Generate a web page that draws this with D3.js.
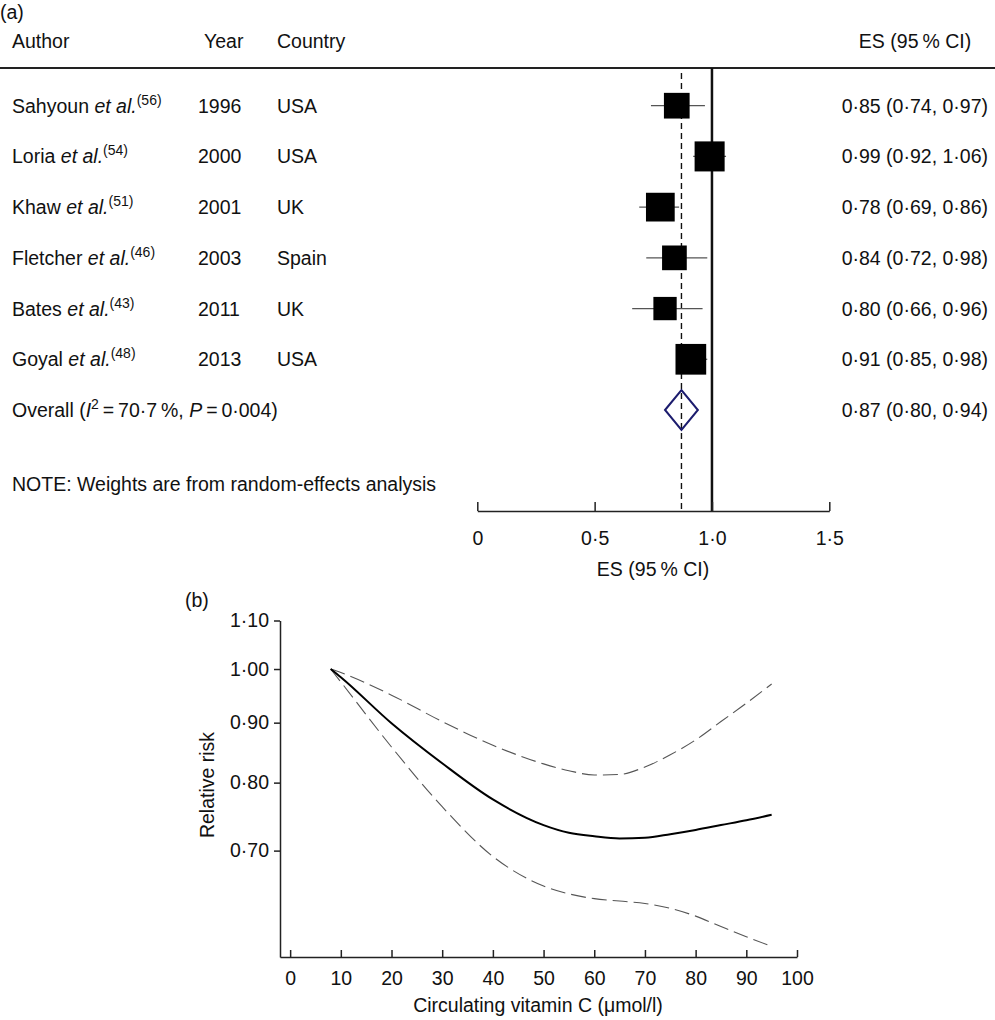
<!DOCTYPE html>
<html>
<head>
<meta charset="utf-8">
<script src="https://cdn.jsdelivr.net/npm/d3@7"></script>
<style>
  body { margin: 0; background: #fff; }
  svg text { font-family: "Liberation Sans", Arial, sans-serif; fill: #111; }
</style>
</head>
<body>
<div id="chart"></div>
<script>
// panel (a) data
const authors = ["Sahyoun", "Loria", "Khaw", "Fletcher", "Bates", "Goyal"];
const refs = ["56", "54", "51", "46", "43", "48"];
const years = ["1996", "2000", "2001", "2003", "2011", "2013"];
const countries = ["USA", "USA", "UK", "Spain", "UK", "USA"];
const es = [0.85, 0.99, 0.78, 0.84, 0.80, 0.91];
const lo = [0.74, 0.92, 0.69, 0.72, 0.66, 0.85];
const hi = [0.97, 1.06, 0.86, 0.98, 0.96, 0.98];
const weights = [14.7, 20.1, 18.4, 13.6, 12.1, 21.0];
const overall = [0.87, 0.80, 0.94];   // es, lo, hi
const overallI2 = "70·7";
const overallP = "0·004";
const esTicks = [0, 0.5, 1.0, 1.5];

// panel (b) data
const vitC = [8, 10, 20, 30, 40, 50, 55, 60, 65, 70, 75, 80, 85, 90, 95];
const rrMid = [1.00, 0.984, 0.899, 0.831, 0.774, 0.736, 0.725, 0.720, 0.717, 0.718, 0.723, 0.729, 0.736, 0.743, 0.751];
const rrUpper = [1.00, 0.993, 0.950, 0.902, 0.861, 0.830, 0.819, 0.812, 0.813, 0.825, 0.845, 0.870, 0.902, 0.935, 0.971];
const rrLower = [1.00, 0.975, 0.858, 0.763, 0.692, 0.653, 0.643, 0.637, 0.634, 0.631, 0.625, 0.6155, 0.603, 0.591, 0.580];
const vitTicks = [0, 10, 20, 30, 40, 50, 60, 70, 80, 90, 100];
const rrTicks = [0.70, 0.80, 0.90, 1.00, 1.10];

const width = 995, height = 1020;
const fs = 19.5;

const svg = d3.select("#chart").append("svg")
    .attr("width", width)
    .attr("height", height);

const dot = s => s.replace(".", "·");
const f2 = v => dot(d3.format(".2f")(v));

// ---------- panel (a): forest plot ----------
const x = d3.scaleLinear().domain([0, 1.5]).range([477.3, 829.3]);
const row = d3.scaleLinear().domain([0, 6]).range([105.7, 410]);
const size = d3.scaleSqrt().domain([0, 21]).range([0, 30.7]);
const axisY = 511;

svg.append("text").attr("x", 0).attr("y", 19).style("font-size", fs + "px").text("(a)");

const headY = 47.7;
svg.append("text").attr("x", 12).attr("y", headY).style("font-size", fs + "px").text("Author");
svg.append("text").attr("x", 204).attr("y", headY).style("font-size", fs + "px").text("Year");
svg.append("text").attr("x", 277).attr("y", headY).style("font-size", fs + "px").text("Country");
svg.append("text").attr("x", 915).attr("y", headY).style("font-size", fs + "px")
    .style("text-anchor", "middle").text("ES (95\u2009% CI)");

svg.append("line")
    .attr("x1", 0).attr("x2", width)
    .attr("y1", 68).attr("y2", 68)
    .attr("stroke", "#222").attr("stroke-width", 2);

// reference lines
svg.append("line")
    .attr("x1", x(1)).attr("x2", x(1))
    .attr("y1", 68).attr("y2", axisY)
    .attr("stroke", "#111").attr("stroke-width", 2.5);

svg.append("line")
    .attr("x1", x(overall[0])).attr("x2", x(overall[0]))
    .attr("y1", 73).attr("y2", axisY)
    .attr("stroke", "#111").attr("stroke-width", 1.4)
    .attr("stroke-dasharray", "6,4");

// study rows
authors.forEach((a, i) => {
    const y = row(i);
    const t = svg.append("text").attr("x", 12).attr("y", y + 7).style("font-size", fs + "px");
    t.append("tspan").text(a + " ");
    t.append("tspan").style("font-style", "italic").text("et al.");
    t.append("tspan").attr("dy", -8).style("font-size", "14px").text("(" + refs[i] + ")");

    svg.append("text").attr("x", 198).attr("y", y + 7).style("font-size", fs + "px").text(years[i]);
    svg.append("text").attr("x", 277).attr("y", y + 7).style("font-size", fs + "px").text(countries[i]);
    svg.append("text").attr("x", 988).attr("y", y + 7).style("font-size", fs + "px")
        .style("text-anchor", "end")
        .text(`${f2(es[i])} (${f2(lo[i])}, ${f2(hi[i])})`);

    svg.append("line")
        .attr("x1", x(lo[i])).attr("x2", x(hi[i]))
        .attr("y1", y).attr("y2", y)
        .attr("stroke", "#555").attr("stroke-width", 1.2);

    const s = size(weights[i]);
    svg.append("rect")
        .attr("x", x(es[i]) - s / 2).attr("y", y - s / 2)
        .attr("width", s).attr("height", s)
        .attr("fill", "#000");
});

// overall row
const oy = row(6);
const ot = svg.append("text").attr("x", 12).attr("y", oy + 7).style("font-size", fs + "px");
ot.append("tspan").text("Overall (");
ot.append("tspan").style("font-style", "italic").text("I");
ot.append("tspan").attr("dy", -8).style("font-size", "14px").text("2");
ot.append("tspan").attr("dy", 8).text("\u2009=\u2009" + overallI2 + "\u2009%, ");
ot.append("tspan").style("font-style", "italic").text("P");
ot.append("tspan").text("\u2009=\u2009" + overallP + ")");

svg.append("text").attr("x", 988).attr("y", oy + 7).style("font-size", fs + "px")
    .style("text-anchor", "end")
    .text(`${f2(overall[0])} (${f2(overall[1])}, ${f2(overall[2])})`);

svg.append("path")
    .attr("d", `M${x(overall[1])},${oy} L${x(overall[0])},${oy - 20} L${x(overall[2])},${oy} L${x(overall[0])},${oy + 20} Z`)
    .attr("fill", "none")
    .attr("stroke", "#1c1c6e")
    .attr("stroke-width", 2);

svg.append("text").attr("x", 12).attr("y", 491).style("font-size", fs + "px")
    .text("NOTE: Weights are from random-effects analysis");

const axA = svg.append("g")
    .attr("transform", `translate(0,${axisY})`)
    .call(d3.axisBottom(x)
        .tickValues(esTicks)
        .tickSize(-9)
        .tickSizeOuter(0)
        .tickPadding(20)
        .tickFormat(v => v === 0 ? "0" : dot(d3.format(".1f")(v))));
axA.select(".domain").attr("stroke", "#222").attr("stroke-width", 1.5);
axA.selectAll(".tick line").attr("stroke", "#222").attr("stroke-width", 1.5);
axA.selectAll(".tick text").style("font-size", fs + "px").attr("fill", "#111");

svg.append("text").attr("x", 653).attr("y", 576).style("font-size", fs + "px")
    .style("text-anchor", "middle").text("ES (95\u2009% CI)");

// ---------- panel (b): dose-response ----------
const xb = d3.scaleLinear().domain([-2, 100]).range([280, 797]);
const yb = d3.scaleLog().domain([0.568, 1.10]).range([957, 620.5]);

svg.append("text").attr("x", 185).attr("y", 607).style("font-size", fs + "px").text("(b)");

const axX = svg.append("g")
    .attr("transform", "translate(0,957)")
    .call(d3.axisBottom(xb)
        .tickValues(vitTicks)
        .tickSize(-7)
        .tickSizeOuter(0)
        .tickPadding(14)
        .tickFormat(d3.format("d")));

const axYb = svg.append("g")
    .attr("transform", "translate(280,0)")
    .call(d3.axisLeft(yb)
        .tickValues(rrTicks)
        .tickSize(6)
        .tickSizeOuter(0)
        .tickPadding(5)
        .tickFormat(f2));

[axX, axYb].forEach(g => {
    g.select(".domain").attr("stroke", "#222").attr("stroke-width", 1.5);
    g.selectAll(".tick line").attr("stroke", "#222").attr("stroke-width", 1.5);
    g.selectAll(".tick text").style("font-size", fs + "px").attr("fill", "#111");
});

const line = d3.line()
    .x(d => xb(d[0]))
    .y(d => yb(d[1]))
    .curve(d3.curveMonotoneX);

svg.append("path")
    .datum(vitC.map((v, i) => [v, rrUpper[i]]))
    .attr("d", line)
    .attr("fill", "none").attr("stroke", "#555").attr("stroke-width", 1.1)
    .attr("stroke-dasharray", "15,6");

svg.append("path")
    .datum(vitC.map((v, i) => [v, rrLower[i]]))
    .attr("d", line)
    .attr("fill", "none").attr("stroke", "#555").attr("stroke-width", 1.1)
    .attr("stroke-dasharray", "15,6");

svg.append("path")
    .datum(vitC.map((v, i) => [v, rrMid[i]]))
    .attr("d", line)
    .attr("fill", "none").attr("stroke", "#000").attr("stroke-width", 2);

svg.append("text")
    .attr("transform", "rotate(-90)")
    .attr("x", -785).attr("y", 214)
    .style("font-size", fs + "px")
    .style("text-anchor", "middle")
    .text("Relative risk");

svg.append("text").attr("x", 538).attr("y", 1012).style("font-size", fs + "px")
    .style("text-anchor", "middle").text("Circulating vitamin C (μmol/l)");
</script>
</body>
</html>
